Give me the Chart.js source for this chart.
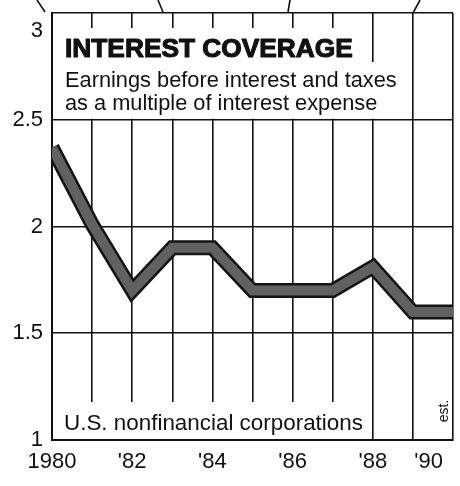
<!DOCTYPE html>
<html><head><meta charset="utf-8">
<script src="https://cdn.jsdelivr.net/npm/chart.js@4/dist/chart.umd.min.js"></script>
<style>html,body{margin:0;padding:0;background:#fff;}canvas{display:block;}</style>
</head><body>
<canvas id="c" width="460" height="486"></canvas>
<script>
// ---- data ----
const years = [1980, 1981, 1982, 1983, 1984, 1985, 1986, 1987, 1988, 1989, 1990];
const coverage = [2.37, 2.01, 1.70, 1.90, 1.90, 1.70, 1.70, 1.70, 1.81, 1.60, 1.60];
const xTickLabels = { 1980: '1980', 1982: "'82", 1984: "'84", 1986: "'86", 1988: "'88", 1990: "'90" };
const yTicks = [1, 1.5, 2, 2.5, 3];
const yTickLabels = ['1', '1.5', '2', '2.5', '3'];
const titleText = 'INTEREST COVERAGE';
const subtitleLines = ['Earnings before interest and taxes', 'as a multiple of interest expense'];
const footText = 'U.S. nonfinancial corporations';
const estText = 'est.';

const FONT = '"Liberation Sans", Arial, sans-serif';
const points = years.map((y, i) => ({ x: y, y: coverage[i] }));

function fitFont(ctx, text, weight, target) {
  ctx.font = weight + ' 20px ' + FONT;
  const w = ctx.measureText(text).width;
  return 20 * target / w;
}

const boxesPlugin = {
  id: 'boxes',
  beforeDatasetsDraw(chart) {
    const ctx = chart.ctx;
    const xs = chart.scales.x, ys = chart.scales.y;
    const L = xs.left, x88 = xs.getPixelForValue(1988), x89 = xs.getPixelForValue(1989);
    const y25 = ys.getPixelForValue(2.5), yBot = ys.getPixelForValue(1);
    ctx.save();
    ctx.fillStyle = '#fff';
    // title box (notched)
    ctx.fillRect(L + 1, 28, x88 - L - 2, 35);
    ctx.fillRect(L + 1, 62, x89 - L - 3, y25 - 62 - 1);
    // footer box
    ctx.fillRect(L + 1, 402, x88 - L - 2, yBot - 402 - 1);
    ctx.fillStyle = '#111';
    ctx.strokeStyle = '#111';
    ctx.textBaseline = 'alphabetic';
    ctx.textAlign = 'left';
    let fs = fitFont(ctx, titleText, 'bold', 288);
    ctx.font = 'bold ' + fs + 'px ' + FONT;
    ctx.lineWidth = 1.1;
    ctx.lineJoin = 'round';
    ctx.fillText(titleText, 65, 57);
    ctx.strokeText(titleText, 65, 57);
    fs = fitFont(ctx, subtitleLines[0], 'normal', 332);
    ctx.font = fs + 'px ' + FONT;
    ctx.fillText(subtitleLines[0], 65, 87);
    ctx.fillText(subtitleLines[1], 65, 110);
    fs = fitFont(ctx, footText, 'normal', 299);
    ctx.font = fs + 'px ' + FONT;
    ctx.fillText(footText, 64, 430);
    // est.
    ctx.save();
    ctx.translate(448, 411);
    ctx.rotate(-Math.PI / 2);
    ctx.textAlign = 'center';
    ctx.font = '14px ' + FONT;
    ctx.fillText(estText, 0, 0);
    ctx.restore();
    ctx.restore();
  },
  afterDraw(chart) {
    const ctx = chart.ctx;
    ctx.save();
    ctx.strokeStyle = '#111';
    ctx.lineWidth = 1.6;
    [[37, 0, 45, 12], [158, 0, 163, 12], [290, 0, 288, 12], [420, 0, 413, 13]].forEach(s => {
      ctx.beginPath(); ctx.moveTo(s[0], s[1]); ctx.lineTo(s[2], s[3]); ctx.stroke();
    });
    ctx.restore();
  }
};

new Chart(document.getElementById('c'), {
  type: 'line',
  data: {
    datasets: [
      { data: points, borderColor: '#616161', borderWidth: 10, pointRadius: 0, tension: 0,
        borderJoinStyle: 'miter', borderCapStyle: 'butt', fill: false, order: 1 },
      { data: points, borderColor: '#141414', borderWidth: 15, pointRadius: 0, tension: 0,
        borderJoinStyle: 'miter', borderCapStyle: 'butt', fill: false, order: 2 }
    ]
  },
  options: {
    responsive: false,
    devicePixelRatio: 1,
    animation: false,
    layout: { padding: { top: 13, right: 7, left: 0, bottom: 0 } },
    plugins: { legend: { display: false }, tooltip: { enabled: false } },
    scales: {
      x: {
        type: 'linear', min: 1980, max: 1990,
        afterBuildTicks(s) { s.ticks = years.map(v => ({ value: v })); },
        afterFit(s) { s.height = 46; s.paddingLeft = 0; s.paddingRight = 0; },
        ticks: {
          autoSkip: false, maxRotation: 0, minRotation: 0, padding: 9, color: '#111',
          font: { family: FONT, size: 22 },
          callback(v) {
            const t = xTickLabels[v] || '';
            return v === 1990 ? t + '        ' : t;
          }
        },
        grid: { color: '#111', lineWidth: 1.6, drawTicks: false },
        border: { display: true, color: '#111', width: 2 }
      },
      y: {
        min: 1, max: 3,
        afterBuildTicks(s) { s.ticks = yTicks.map(v => ({ value: v })); },
        afterFit(s) { s.width = 52; s.paddingTop = 0; s.paddingBottom = 0; },
        ticks: {
          padding: 9, color: '#111',
          font: { family: FONT, size: 22, lineHeight: 1.6 },
          callback(v) {
            const t = yTickLabels[yTicks.indexOf(v)];
            return v === 3 ? ['', t] : t;
          }
        },
        grid: { color: '#111', lineWidth: 1.6, drawTicks: false },
        border: { display: true, color: '#111', width: 2 }
      }
    }
  },
  plugins: [boxesPlugin]
});
</script>
</body></html>
